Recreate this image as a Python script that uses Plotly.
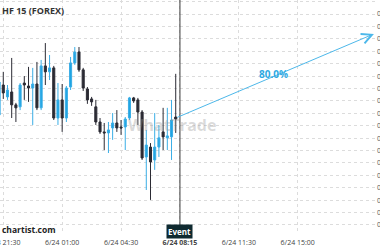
import plotly.graph_objects as go

# 15-minute candles, time in hours relative to 6/24 00:00
times = [-2.75 + 0.25 * i for i in range(43)]
opens = [0.92443, 0.92564, 0.92516, 0.92536, 0.92484, 0.92476, 0.92572, 0.92560, 0.92552, 0.92568,
         0.92472, 0.92641, 0.92617, 0.92633, 0.92431, 0.92504, 0.92431, 0.92556, 0.92653, 0.92697,
         0.92625, 0.92548, 0.92508, 0.92476, 0.92415, 0.92375, 0.92371, 0.92391, 0.92411, 0.92395,
         0.92395, 0.92431, 0.92512, 0.92504, 0.92455, 0.92274, 0.92314, 0.92262, 0.92314, 0.92375,
         0.92351, 0.92355, 0.92435]
highs = [0.92584, 0.92617, 0.92564, 0.92673, 0.92492, 0.92572, 0.92600, 0.92637, 0.92633, 0.92657,
         0.92665, 0.92733, 0.92685, 0.92641, 0.92572, 0.92568, 0.92560, 0.92677, 0.92717, 0.92717,
         0.92633, 0.92556, 0.92516, 0.92504, 0.92431, 0.92411, 0.92415, 0.92451, 0.92463, 0.92423,
         0.92435, 0.92516, 0.92516, 0.92512, 0.92463, 0.92383, 0.92330, 0.92451, 0.92403, 0.92472,
         0.92472, 0.92504, 0.92609]
lows = [0.92431, 0.92508, 0.92504, 0.92431, 0.92415, 0.92463, 0.92504, 0.92496, 0.92403, 0.92463,
        0.92463, 0.92564, 0.92584, 0.92423, 0.92403, 0.92375, 0.92415, 0.92544, 0.92645, 0.92617,
        0.92540, 0.92488, 0.92480, 0.92403, 0.92367, 0.92302, 0.92290, 0.92343, 0.92375, 0.92363,
        0.92302, 0.92423, 0.92492, 0.92403, 0.92262, 0.92141, 0.92101, 0.92222, 0.92274, 0.92302,
        0.92302, 0.92262, 0.92371]
closes = [0.92576, 0.92532, 0.92544, 0.92484, 0.92472, 0.92564, 0.92564, 0.92552, 0.92568, 0.92472,
          0.92641, 0.92617, 0.92633, 0.92431, 0.92504, 0.92431, 0.92552, 0.92653, 0.92697, 0.92625,
          0.92552, 0.92504, 0.92496, 0.92415, 0.92375, 0.92371, 0.92383, 0.92411, 0.92391, 0.92391,
          0.92427, 0.92512, 0.92500, 0.92455, 0.92270, 0.92322, 0.92254, 0.92314, 0.92351, 0.92355,
          0.92359, 0.92423, 0.92427]

x_tick_vals = [-2.5, 1.0, 4.5, 8.0, 11.5, 15.0]
x_tick_text = ["6/23 21:30", "6/24 01:00", "6/24 04:30", "<b>6/24 08:15</b>", "6/24 11:30", "6/24 15:00"]
y_tick_vals = [0.9200 + 0.0005 * k for k in range(19)]
y_tick_text = ["%.4f" % v for v in y_tick_vals]

event_x = 8.0
arrow_start = (7.75, 0.92431)
arrow_end = (19.53, 0.92770)
arrow_label = "80.0%"

BLUE = "#1fa5e3"
DARK = "#2b2b34"

fig = go.Figure()
fig.add_trace(go.Candlestick(
    x=times, open=opens, high=highs, low=lows, close=closes,
    increasing=dict(line=dict(color="#3aaee6", width=1), fillcolor=BLUE),
    decreasing=dict(line=dict(color=DARK, width=1), fillcolor=DARK),
    whiskerwidth=0, showlegend=False, hoverinfo="skip",
))

fig.update_layout(
    width=380, height=250,
    margin=dict(l=0, r=4, t=0, b=16, autoexpand=False),
    paper_bgcolor="white", plot_bgcolor="white",
    font=dict(family="Open Sans", size=7, color="#444"),
    showlegend=False,
    xaxis=dict(range=[-2.695, 19.653], tickvals=x_tick_vals, ticktext=x_tick_text,
               showgrid=True, gridcolor="#dcdcdc", griddash="dot", gridwidth=1,
               zeroline=False, showline=False, ticks="", rangeslider=dict(visible=False),
               automargin=False, ticklabeloverflow="allow", ticklabelstandoff=3,
               tickfont=dict(size=7, color="#444")),
    yaxis=dict(range=[0.919637, 0.929065], side="right", tickvals=y_tick_vals, ticktext=y_tick_text,
               showgrid=True, gridcolor="#dcdcdc", griddash="dot", gridwidth=1,
               zeroline=False, showline=False, ticks="", automargin=False,
               tickfont=dict(size=7, color="#555")),
)

# event line
fig.add_shape(type="line", xref="x", yref="paper", x0=event_x, x1=event_x, y0=0.035, y1=1,
              line=dict(color="#3a3a3a", width=1))

annotations = [
    dict(x=0, y=0.955, xref="paper", yref="paper", xanchor="left", yanchor="middle",
         text="<b>HF 15 (FOREX)</b>", showarrow=False, font=dict(size=9, color="#333")),
    dict(x=0, y=0.021, xref="paper", yref="paper", xanchor="left", yanchor="middle",
         text="<b>chartist.com</b>", showarrow=False, font=dict(size=8.5, color="#222")),
    dict(x=event_x, y=0.012, xref="x", yref="paper", xanchor="center", yanchor="middle",
         text="<b>Event</b>", showarrow=False, bgcolor="#0f2a30", borderpad=1,
         font=dict(size=8, color="white")),
    dict(x=0.458, y=0.465, xref="paper", yref="paper", xanchor="center", yanchor="middle",
         text="<b>WhatTrade</b>", showarrow=False, font=dict(size=16, color="rgba(150,150,150,0.35)")),
    dict(x=arrow_end[0], y=arrow_end[1], ax=arrow_start[0], ay=arrow_start[1],
         xref="x", yref="y", axref="x", ayref="y", text="", showarrow=True,
         arrowhead=5, arrowsize=2, arrowwidth=1, arrowcolor="#4db8ea"),
    dict(x=13.58, y=0.92609, xref="x", yref="y", text="<b>" + arrow_label + "</b>", showarrow=False,
         font=dict(size=10, color="#2ea9e2")),
]
fig.update_layout(annotations=annotations)

fig.write_html("out.html")
